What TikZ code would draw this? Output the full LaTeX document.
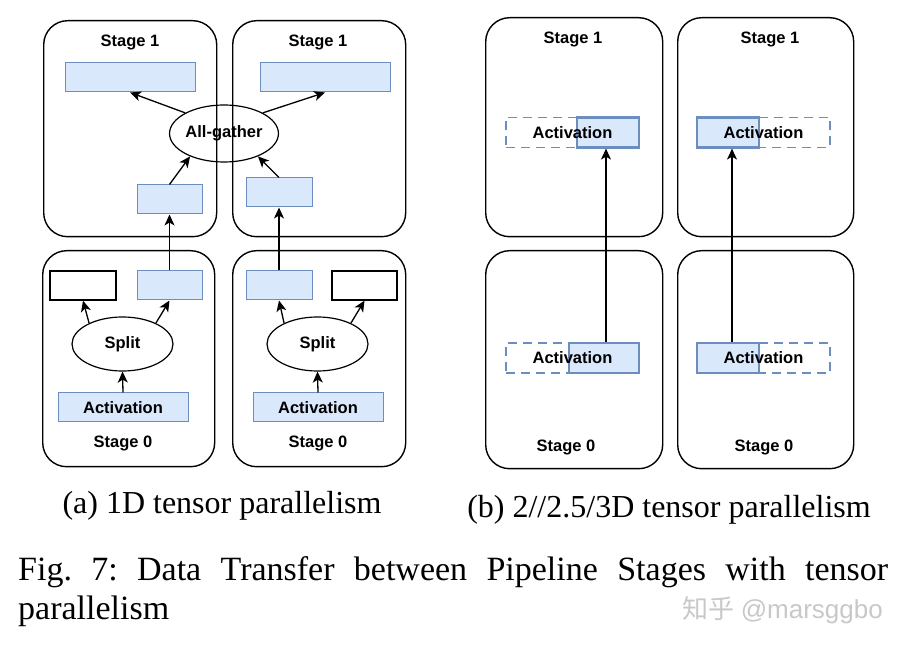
\documentclass[tikz,border=0pt]{standalone}
\usepackage{fontspec}
\setmainfont{Liberation Serif}
\newfontfamily\diagfont{Liberation Sans}
\newfontfamily\cjkfont{Noto Sans CJK SC}
\usetikzlibrary{shapes.geometric,arrows.meta}
\definecolor{bfill}{HTML}{DAE8FC}
\definecolor{bline}{HTML}{6C8EBF}
\definecolor{wmark}{HTML}{C8C8C8}
\begin{document}
\begin{tikzpicture}[x=1pt,y=-1pt,
  stagebox/.style={draw=black,line width=1.4pt,rounded corners=24pt,inner sep=0pt,anchor=north west},
  blue/.style={draw=bline,fill=bfill,line width=1pt,inner sep=0pt,minimum height=29pt},
  white/.style={draw=black,fill=white,line width=1.2pt,inner sep=0pt,minimum height=29pt},
  oval/.style={ellipse,draw=black,line width=1.2pt,inner sep=0pt,font=\diagfont\bfseries\fontsize{16.5}{19}\selectfont},
  lbl/.style={font=\diagfont\bfseries\fontsize{16.5}{19}\selectfont,inner sep=0pt},
  solidb/.style={draw=bline,fill=bfill,line width=2.2pt,inner sep=0pt,minimum height=30pt},
  dashb/.style={draw=bline,dash pattern=on 9pt off 6pt,line width=1.7pt,inner sep=0pt,minimum height=30pt,minimum width=133pt,font=\diagfont\bfseries\fontsize{16.5}{19}\selectfont},
  arr/.style={-{Stealth[length=11pt,width=10pt,inset=3pt]},line width=1.3pt,black}]
\useasboundingbox (0,0) rectangle (906,652);
% ---------- panel (a) ----------
\node[stagebox,minimum width=173pt,minimum height=216pt] (A1l) at (43,20) {};
\node[stagebox,minimum width=173pt,minimum height=216pt] (A1r) at (232,20) {};
\node[stagebox,minimum width=172pt,minimum height=216pt] (A0l) at (42,250) {};
\node[stagebox,minimum width=173pt,minimum height=216pt] (A0r) at (232,250) {};
\node[lbl] (t1l) at (130,42) {Stage 1};
\node[lbl] (t1r) at (318,42) {Stage 1};
\node[lbl] (t0l) at (123,443) {Stage 0};
\node[lbl] (t0r) at (318,443) {Stage 0};
% stage 1 content
\node[blue,minimum width=130pt] (w1) at (130,77.5) {};
\node[blue,minimum width=130pt] (w2) at (325,77.5) {};
\node[oval,minimum width=102pt,minimum height=57pt] (ag) at (224,133.5) {All-gather};
\node[blue,minimum width=65pt] (s1) at (169.5,199.5) {};
\node[blue,minimum width=66pt] (s2) at (279,192.5) {};
% stage 0 content
\node[white,minimum width=66pt] (wr1) at (83,285.5) {};
\node[blue,minimum width=65pt] (br1) at (169.5,285.5) {};
\node[blue,minimum width=66pt] (br2) at (279,285.5) {};
\node[white,minimum width=65pt] (wr2) at (364.5,285.5) {};
\node[oval,minimum width=101pt,minimum height=54pt] (sp1) at (122.5,344) {Split};
\node[oval,minimum width=101pt,minimum height=54pt] (sp2) at (317.5,344) {Split};
\node[blue,minimum width=130pt,font=\diagfont\bfseries\fontsize{16.5}{19}\selectfont] (ac1) at (123,407.5) {Activation};
\node[blue,minimum width=130pt,font=\diagfont\bfseries\fontsize{16.5}{19}\selectfont] (ac2) at (318,407.5) {Activation};
% arrows (a)
\draw[arr] (ac1.north) -- (sp1.south);
\draw[arr] (ac2.north) -- (sp2.south);
\draw[arr] (sp1.148) -- (wr1.south);
\draw[arr] (sp1.32) -- (br1.south);
\draw[arr] (sp2.148) -- (br2.south);
\draw[arr] (sp2.32) -- (wr2.south);
\draw[arr] (br1.north) -- (s1.south);
\draw[arr] (br2.north) -- (s2.south);
\draw[arr] (s1.north) -- (ag.214);
\draw[arr] (s2.north) -- (ag.326);
\draw[arr] (ag.152) -- (w1.south);
\draw[arr] (ag.28) -- (w2.south);
% ---------- panel (b) ----------
\node[stagebox,minimum width=177pt,minimum height=219pt] (B1l) at (485,17) {};
\node[stagebox,minimum width=176pt,minimum height=219pt] (B1r) at (677,17) {};
\node[stagebox,minimum width=177pt,minimum height=218pt] (B0l) at (485,250) {};
\node[stagebox,minimum width=176pt,minimum height=218pt] (B0r) at (677,250) {};
\node[lbl] (u1l) at (573,39) {Stage 1};
\node[lbl] (u1r) at (770,39) {Stage 1};
\node[lbl] (u0l) at (566,447) {Stage 0};
\node[lbl] (u0r) at (764,447) {Stage 0};
\node[solidb,minimum width=62pt] (b1l) at (608,132.5) {};
\node[dashb] (d1l) at (572.5,132.5) {Activation};
\node[solidb,minimum width=62pt] (b1r) at (728,132.5) {};
\node[dashb] (d1r) at (763.5,132.5) {Activation};
\node[solidb,minimum width=70pt] (b0l) at (604,358) {};
\node[dashb] (d0l) at (572.5,358) {Activation};
\node[solidb,minimum width=62pt] (b0r) at (728,358) {};
\node[dashb] (d0r) at (763.5,358) {Activation};
\draw[arr] ([xshift=2pt]b0l.north) -- ([xshift=2pt]b0l.north |- b1l.south);
\draw[arr] ([xshift=4pt]b0r.north) -- ([xshift=4pt]b0r.north |- b1r.south);
% ---------- captions ----------
\node[inner sep=0pt,anchor=base,font=\fontsize{32}{38}\selectfont] (capa) at (222,514) {(a) 1D tensor parallelism};
\node[inner sep=0pt,anchor=base,font=\fontsize{32}{38}\selectfont] (capb) at (669,518) {(b) 2//2.5/3D tensor parallelism};
\node[inner sep=0pt,anchor=base west,font=\fontsize{34}{39}\selectfont] (fig1) at (18,580) {\hbox to 870pt{Fig.\hfill 7:\hfill Data\hfill Transfer\hfill between\hfill Pipeline\hfill Stages\hfill with\hfill tensor}};
\node[inner sep=0pt,anchor=base west,font=\fontsize{34}{39}\selectfont] (fig2) at (18,619) {parallelism};
\node[inner sep=0pt,anchor=base east,text=wmark,font=\fontsize{26}{30}\selectfont] (wm) at (883,618) {{\cjkfont 知乎} {\diagfont @marsggbo}};
\end{tikzpicture}
\end{document}
